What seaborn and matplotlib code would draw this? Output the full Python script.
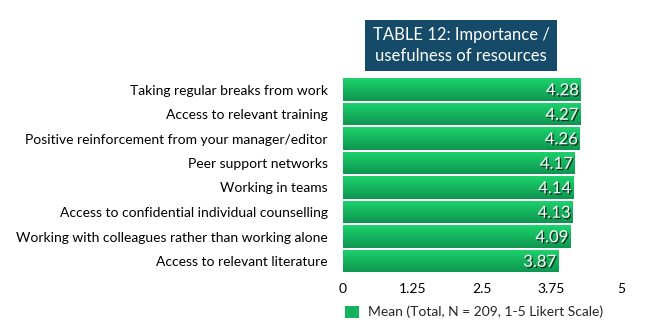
import matplotlib
matplotlib.use("Agg")
import matplotlib.pyplot as plt
import matplotlib.patheffects as pe
import matplotlib.colors as mcolors
import numpy as np
import pandas as pd
import seaborn as sns

categories = [
    "Taking regular breaks from work",
    "Access to relevant training",
    "Positive reinforcement from your manager/editor",
    "Peer support networks",
    "Working in teams",
    "Access to confidential individual counselling",
    "Working with colleagues rather than working alone",
    "Access to relevant literature",
]
values = [4.28, 4.27, 4.26, 4.17, 4.14, 4.13, 4.09, 3.87]
xticks = [0, 1.25, 2.5, 3.75, 5]
xtick_labels = ["0", "1.25", "2.5", "3.75", "5"]
title = "TABLE 12: Importance /\nusefulness of resources"
legend_label = "Mean (Total, N = 209, 1-5 Likert Scale)"

sns.set_theme(style="white")
plt.rcParams['font.family'] = ['Lato', 'DejaVu Sans']

df = pd.DataFrame({"cat": categories, "val": values})

fig = plt.figure(figsize=(6.47, 3.33), dpi=100)
ax = fig.add_axes([343/647, 1-273.25/333, (621-343)/647, 196/333])

sns.barplot(data=df, y="cat", x="val", orient="h", color="#17b85f",
            width=0.9, ax=ax, label=legend_label)

ax.set_xlim(0, 5)
ax.set_ylim(7.5, -0.5)
xl, yl = ax.get_xlim(), ax.get_ylim()

light = np.array(mcolors.to_rgb("#1dd46d"))
dark = np.array(mcolors.to_rgb("#0e9550"))
grad = np.linspace(0, 1, 64)[:, None, None]
img = light * (1 - grad) + dark * grad

for p in list(ax.patches):
    x0, y0 = p.get_x(), p.get_y()
    w, h = p.get_width(), p.get_height()
    im = ax.imshow(img, extent=(x0, x0 + w, y0 + h, y0), origin="upper",
                   aspect="auto", zorder=p.get_zorder() + 0.1)
    im.set_clip_path(p)

ax.set_xlim(xl)
ax.set_ylim(yl)

for i, v in enumerate(values):
    ax.text(v - 0.04, i + 0.03, f"{v:.2f}", ha="right", va="center",
            color="white", fontsize=12, zorder=5,
            path_effects=[pe.SimplePatchShadow(offset=(1, -1), shadow_rgbFace="black", alpha=0.7),
                          pe.Normal()])

ax.set_xticks(xticks)
ax.set_xticklabels(xtick_labels, fontsize=10)
ax.tick_params(axis="x", length=0, pad=7)
ax.tick_params(axis="y", length=0, pad=11, labelsize=10)
ax.set_xlabel("")
ax.set_ylabel("")
for s in ax.spines.values():
    s.set_visible(False)
ax.grid(False)
for t in ax.get_yticklabels() + ax.get_xticklabels():
    t.set_color("black")

# legend
from matplotlib.patches import Patch
handle = Patch(facecolor="#15b35c", edgecolor="none")
if ax.get_legend():
    ax.get_legend().remove()
fig.legend([handle], [legend_label], loc="center", bbox_to_anchor=(474/647, 1-312/333),
           frameon=False, fontsize=10, handlelength=1.0, handleheight=1.0,
           handletextpad=0.6, borderpad=0)

fig.text(461/647, 1-45.5/333, title, ha="center", va="center", color="white",
         fontsize=12, linespacing=1.35,
         bbox=dict(boxstyle="square,pad=0.45", facecolor="#154a69", edgecolor="none"))

fig.savefig("out.png", dpi=100)
